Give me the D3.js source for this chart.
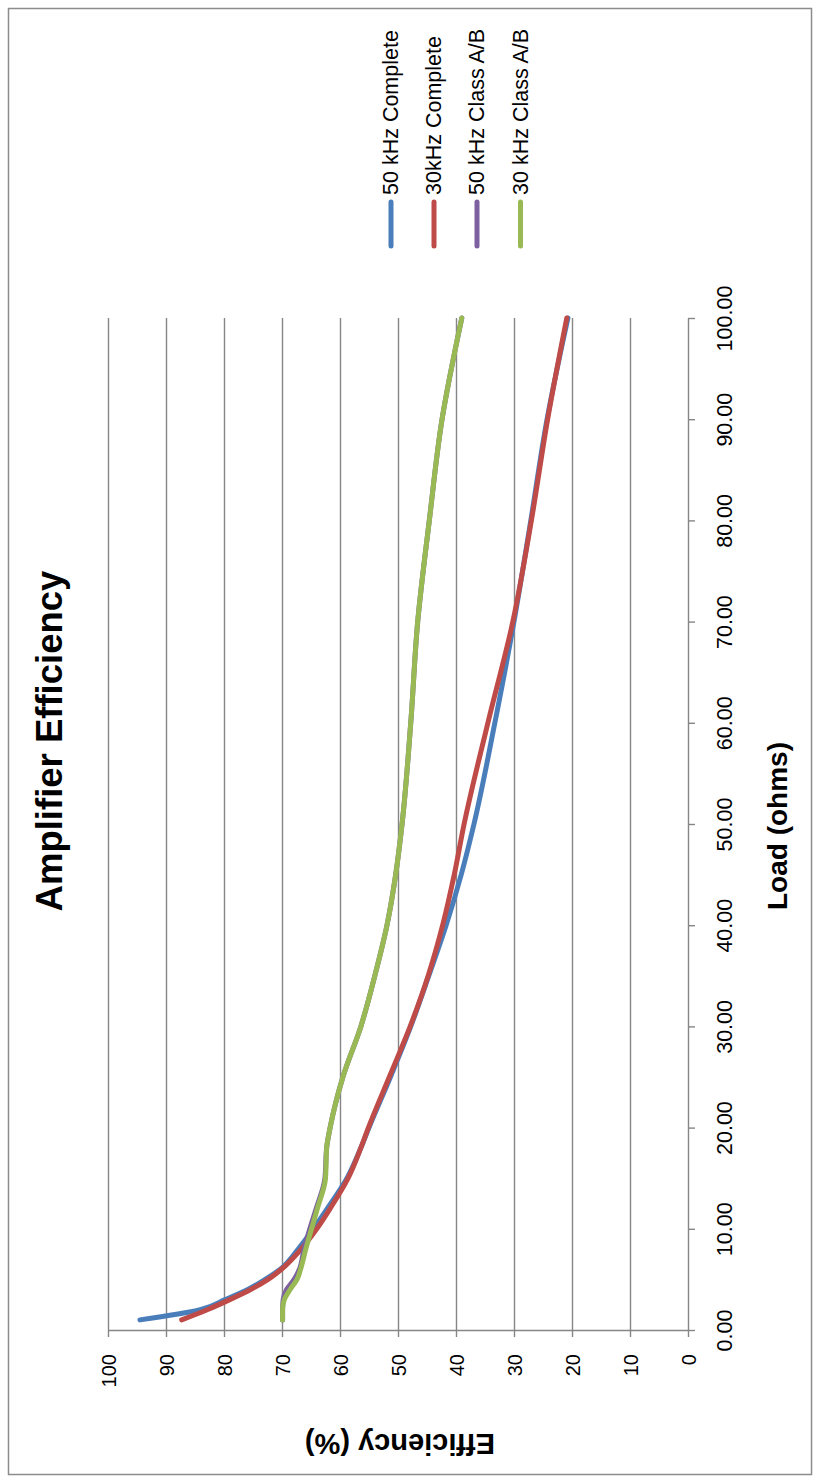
<!DOCTYPE html>
<html>
<head>
<meta charset="utf-8">
<script src="https://cdn.jsdelivr.net/npm/d3@7"></script>
<style>
  html, body { margin: 0; padding: 0; background: #fff; }
  svg { display: block; font-family: "Liberation Sans", Arial, sans-serif; }
</style>
</head>
<body>
<svg id="chart" width="821" height="1478"></svg>
<script>
// ---- Data ----
const loads = [1, 2, 3, 4, 5, 6, 8, 10, 12, 15, 18, 20, 25, 30, 35, 40, 45, 50, 60, 70, 80, 90, 100];
const eff50Complete = [94.5, 84.1, 79.8, 75.9, 72.9, 70.3, 67.2, 64.6, 62.2, 58.8, 56.4, 55.0, 51.3, 47.8, 44.7, 41.7, 39.1, 36.9, 33.3, 30.0, 27.1, 24.3, 20.7];
const eff30Complete = [87.3, 82.9, 79.0, 75.4, 72.4, 70.1, 66.7, 64.0, 61.7, 58.6, 56.4, 55.1, 51.5, 47.9, 44.8, 42.3, 40.3, 38.6, 34.5, 30.2, 27.0, 24.2, 20.9];
const eff50ClassAB = [69.9, 69.9, 69.8, 69.2, 67.9, 67.0, 66.2, 65.2, 64.1, 62.6, 62.3, 61.7, 59.5, 56.4, 54.0, 51.9, 50.4, 49.3, 47.8, 46.6, 44.6, 42.4, 39.0];
const eff30ClassAB = [69.9, 69.9, 69.6, 68.6, 67.4, 66.8, 65.9, 64.9, 63.9, 62.5, 62.3, 61.7, 59.5, 56.4, 54.0, 51.9, 50.4, 49.3, 47.8, 46.6, 44.6, 42.4, 39.0];

const seriesNames = ["50 kHz Complete", "30kHz Complete", "50 kHz Class A/B", "30 kHz Class A/B"];
const seriesColors = ["#4A7EBB", "#BE4B48", "#7D60A0", "#98B954"];
const seriesValues = [eff50Complete, eff30Complete, eff50ClassAB, eff30ClassAB];

const effTicks = [0, 10, 20, 30, 40, 50, 60, 70, 80, 90, 100];
const loadTicks = [0, 10, 20, 30, 40, 50, 60, 70, 80, 90, 100];

const chartTitle = "Amplifier Efficiency";
const xTitle = "Load (ohms)";
const yTitle = "Efficiency (%)";

// ---- Layout (chart is rotated 90° counter-clockwise) ----
const svg = d3.select("#chart");
const gridColor = "#868686";

// Efficiency runs right-to-left, Load runs bottom-to-top
const xEff = d3.scaleLinear().domain([0, 100]).range([688, 108]);
const yLoad = d3.scaleLinear().domain([0, 100]).range([1330, 318]);

// Outer frame
svg.append("rect")
  .attr("x", 8.5).attr("y", 8.5).attr("width", 803).attr("height", 1466)
  .attr("fill", "#fff").attr("stroke", "#8c8c8c").attr("stroke-width", 1.5);

// Gridlines (major, efficiency)
svg.append("g").selectAll("line")
  .data(effTicks.filter(d => d > 0))
  .join("line")
  .attr("x1", d => Math.round(xEff(d)) + 0.5).attr("x2", d => Math.round(xEff(d)) + 0.5)
  .attr("y1", yLoad(0)).attr("y2", yLoad(100))
  .attr("stroke", gridColor).attr("stroke-width", 1.4);

// Efficiency axis (horizontal, bottom)
const effAxis = svg.append("g")
  .attr("transform", `translate(0,${yLoad(0)})`)
  .call(d3.axisBottom(xEff).tickValues(effTicks).tickSize(7).tickSizeOuter(0).tickFormat(d3.format("d")));
effAxis.select(".domain").attr("stroke", gridColor).attr("stroke-width", 1.4);
effAxis.selectAll(".tick line").attr("stroke", gridColor).attr("stroke-width", 1.4);
effAxis.selectAll(".tick text")
  .attr("x", 0).attr("y", 0).attr("dy", 0)
  .attr("text-anchor", "end")
  .attr("transform", "translate(7,24) rotate(-90)")
  .attr("font-size", 20)
  .attr("font-family", "Liberation Sans, Arial, sans-serif")
  .attr("fill", "#000");

// Load axis (vertical, right)
const loadAxis = svg.append("g")
  .attr("transform", `translate(${xEff(0)},0)`)
  .call(d3.axisRight(yLoad).tickValues(loadTicks).tickSize(7).tickSizeOuter(0).tickFormat(d3.format(".2f")));
loadAxis.select(".domain").attr("stroke", gridColor).attr("stroke-width", 1.4);
loadAxis.selectAll(".tick line").attr("stroke", gridColor).attr("stroke-width", 1.4);
loadAxis.selectAll(".tick text")
  .attr("x", 0).attr("y", 0).attr("dy", 0)
  .attr("text-anchor", "middle")
  .attr("transform", "translate(44,0) rotate(-90)")
  .attr("font-size", 21.5)
  .attr("font-family", "Liberation Sans, Arial, sans-serif")
  .attr("fill", "#000");

// Lines
const line = d3.line()
  .x(d => xEff(d[1]))
  .y(d => yLoad(d[0]))
  .curve(d3.curveMonotoneY);

svg.append("g").selectAll("path")
  .data(seriesValues.map((vals, i) => ({ i, pts: loads.map((l, k) => [l, vals[k]]) })))
  .join("path")
  .attr("d", d => line(d.pts))
  .attr("fill", "none")
  .attr("stroke", d => seriesColors[d.i])
  .attr("stroke-width", 5)
  .attr("stroke-linecap", "round")
  .attr("stroke-linejoin", "round");

// Chart title
svg.append("text")
  .attr("transform", "translate(62,741) rotate(-90)")
  .attr("text-anchor", "middle")
  .attr("font-size", 36.5).attr("font-weight", "bold")
  .attr("fill", "#000")
  .text(chartTitle);

// Load axis title
svg.append("text")
  .attr("transform", "translate(787,826) rotate(-90)")
  .attr("text-anchor", "middle")
  .attr("font-size", 28).attr("font-weight", "bold")
  .attr("fill", "#000")
  .text(xTitle);

// Efficiency axis title (upside down)
svg.append("text")
  .attr("transform", "translate(400,1434) rotate(180)")
  .attr("text-anchor", "middle")
  .attr("font-size", 29).attr("font-weight", "bold")
  .attr("fill", "#000")
  .text(yTitle);

// Legend
const legendX = [391, 434, 477, 520.5];
const leg = svg.append("g").selectAll("g")
  .data(seriesNames.map((n, i) => ({ n, i })))
  .join("g")
  .attr("transform", d => `translate(${legendX[d.i]},0)`);
leg.append("line")
  .attr("x1", 0).attr("x2", 0).attr("y1", 202).attr("y2", 246)
  .attr("stroke", d => seriesColors[d.i])
  .attr("stroke-width", 5)
  .attr("stroke-linecap", "round");
leg.append("text")
  .attr("transform", "translate(7,195) rotate(-90)")
  .attr("text-anchor", "start")
  .attr("font-size", 21.5)
  .attr("fill", "#000")
  .text(d => d.n);
</script>
</body>
</html>
